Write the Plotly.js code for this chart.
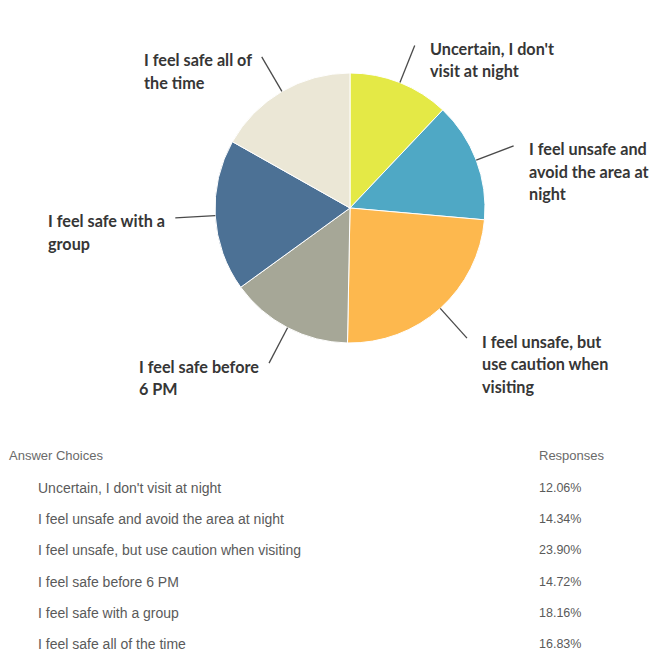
<!DOCTYPE html>
<html>
<head>
<meta charset="utf-8">
<script src="https://cdn.plot.ly/plotly-3.0.1.min.js"></script>
<style>
  html, body { margin: 0; padding: 0; background: #ffffff; }
  #chart { width: 671px; height: 666px; }
</style>
</head>
<body>
<div id="chart"></div>
<script>
// ---- data ----
const categories = [
  "Uncertain, I don't visit at night",
  "I feel unsafe and avoid the area at night",
  "I feel unsafe, but use caution when visiting",
  "I feel safe before 6 PM",
  "I feel safe with a group",
  "I feel safe all of the time"
];
const values = [12.06, 14.34, 23.90, 14.72, 18.16, 16.83];
const pieLabels = [
  "Uncertain, I don't<br>visit at night",
  "I feel unsafe and<br>avoid the area at<br>night",
  "I feel unsafe, but<br>use caution when<br>visiting",
  "I feel safe before<br>6 PM",
  "I feel safe with a<br>group",
  "I feel safe all of<br>the time"
];
const tableHeader = ["Answer Choices", "Responses"];
const colors = ["#e4e946", "#4fa8c5", "#fdb84e", "#a6a797", "#4c7195", "#ebe7d6"];

// ---- layout constants ----
const W = 671, H = 666;
const CX = 350, CY = 208, R = 135;
const domain = {
  x: [(CX - R) / W, (CX + R) / W],
  y: [1 - (CY + R) / H, 1 - (CY - R) / H]
};
const LEADER = 40, GAP_R = 13, GAP_L = 12, LINE_H = 22.5, V_OFF = 3;
const labelFont = "Lato, 'Open Sans', sans-serif";
const labelSize = 16.2;

const ctx = document.createElement('canvas').getContext('2d');
ctx.font = "bold " + labelSize + "px Lato";
function textW(s) { return ctx.measureText(s).width; }

const px = x => x / W;
const py = y => 1 - y / H;

const total = values.reduce((a, b) => a + b, 0);
const shapes = [];
const annotations = [];
let cum = 0;
values.forEach((v, i) => {
  const mid = (cum + v / 2) / total * 2 * Math.PI;
  cum += v;
  const s = Math.sin(mid), c = Math.cos(mid);
  const x0 = CX + R * s, y0 = CY - R * c;
  const x1 = CX + (R + LEADER) * s, y1 = CY - (R + LEADER) * c;
  shapes.push({
    type: 'line', xref: 'paper', yref: 'paper',
    x0: px(x0), y0: py(y0), x1: px(x1), y1: py(y1),
    line: { color: '#4a4a4a', width: 1.3 }
  });
  const lines = pieLabels[i].split('<br>');
  let left;
  if (s >= 0) {
    left = x1 + GAP_R;
  } else {
    const bw = Math.max(...lines.map(textW));
    left = x1 - GAP_L - bw;
  }
  lines.forEach((ln, k) => {
    annotations.push({
      xref: 'paper', yref: 'paper',
      x: px(left), y: py(y1 + V_OFF + k * LINE_H),
      xanchor: 'left', yanchor: 'middle',
      text: '<b>' + ln + '</b>', showarrow: false,
      font: { family: labelFont, size: labelSize, color: '#363636' }
    });
  });
});

// ---- table ----
const tableFont = "'Liberation Sans', Arial, sans-serif";
const HEAD_Y = 455, ROW0_Y = 488, ROW_H = 31.2;
const COL0_X = 7, ROW_X = 36, COL1_X = 537;
annotations.push({
  xref: 'paper', yref: 'paper', x: px(COL0_X), y: py(HEAD_Y),
  xanchor: 'left', yanchor: 'middle', text: tableHeader[0], showarrow: false,
  font: { family: tableFont, size: 13, color: '#6a6a6a' }
});
annotations.push({
  xref: 'paper', yref: 'paper', x: px(COL1_X), y: py(HEAD_Y),
  xanchor: 'left', yanchor: 'middle', text: tableHeader[1], showarrow: false,
  font: { family: tableFont, size: 13, color: '#6a6a6a' }
});
categories.forEach((cat, i) => {
  const y = ROW0_Y + i * ROW_H;
  annotations.push({
    xref: 'paper', yref: 'paper', x: px(ROW_X), y: py(y),
    xanchor: 'left', yanchor: 'middle', text: cat, showarrow: false,
    font: { family: tableFont, size: 14, color: '#5a5a5a' }
  });
  annotations.push({
    xref: 'paper', yref: 'paper', x: px(COL1_X), y: py(y),
    xanchor: 'left', yanchor: 'middle', text: values[i].toFixed(2) + '%', showarrow: false,
    font: { family: tableFont, size: 12.5, color: '#5a5a5a' }
  });
});

const trace = {
  type: 'pie',
  labels: categories,
  values: values,
  sort: false,
  direction: 'clockwise',
  rotation: 0,
  textinfo: 'none',
  hoverinfo: 'label+percent',
  marker: { colors: colors, line: { color: '#ffffff', width: 1 } },
  domain: domain
};

const layout = {
  width: W, height: H,
  margin: { l: 0, r: 0, t: 0, b: 0 },
  paper_bgcolor: '#ffffff',
  plot_bgcolor: '#ffffff',
  showlegend: false,
  shapes: shapes,
  annotations: annotations
};

Plotly.newPlot('chart', [trace], layout, { displayModeBar: false, staticPlot: true });
</script>
</body>
</html>
